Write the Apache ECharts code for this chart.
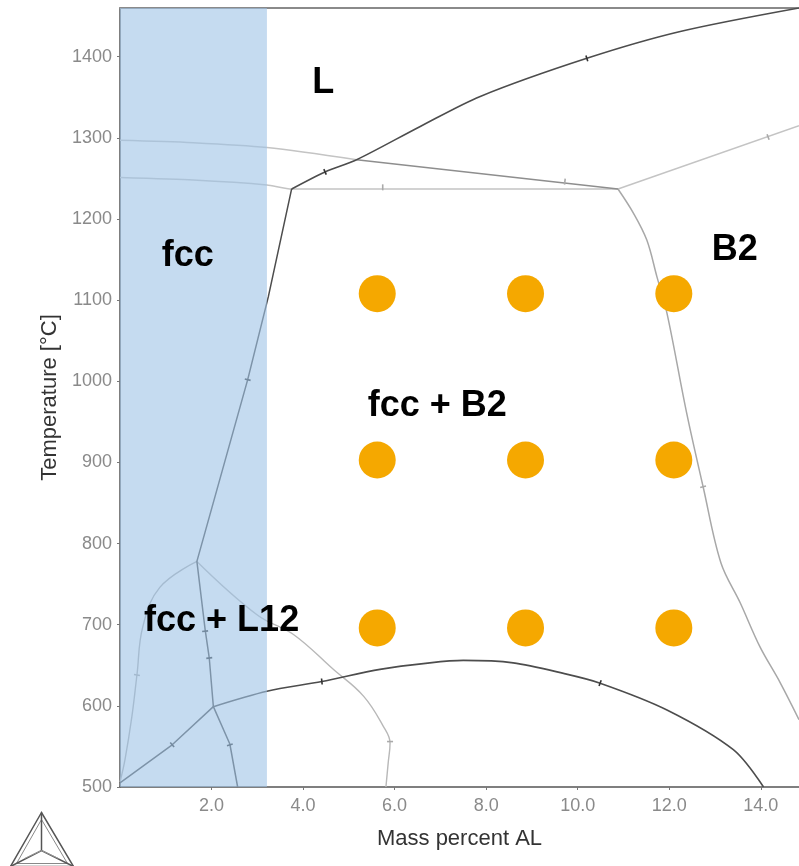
<!DOCTYPE html>
<html>
<head>
<meta charset="utf-8">
<title>Al-Ni phase diagram</title>
<script src="https://cdn.jsdelivr.net/npm/echarts@6/dist/echarts.min.js"></script>
<style>
  html, body { margin: 0; padding: 0; background: #fff; }
  #chart { width: 799px; height: 866px; }
</style>
</head>
<body>
<div id="chart"></div>
<script>
// Axis ranges (mass percent Al, temperature in °C)
const xRange = [0, 14.835];
const tRange = [500, 1460];

// Phase boundaries: [mass % Al, T °C]
const liquidus = [[3.75, 1237], [4.48, 1258], [5.17, 1273], [6.56, 1314], [7.87, 1351], [10.20, 1398], [12.24, 1431], [14.835, 1460]];
const fccSolvus = [[3.75, 1237], [3.24, 1104], [2.79, 1002], [1.68, 778], [1.86, 694], [1.95, 659], [2.04, 599], [2.40, 553], [2.57, 500]];
const lowerLeft = [[0.0, 505], [1.14, 552], [2.04, 599]];
const dome = [[2.04, 599], [3.21, 618], [4.41, 630], [5.68, 645], [6.77, 653], [7.50, 656], [8.59, 653], [9.69, 640], [10.49, 628], [11.95, 595], [13.40, 546], [14.06, 500]];
const threePhase = [[5.17, 1273], [10.88, 1237]];
const upperLight = [[0.0, 1297], [1.6, 1294], [3.21, 1288], [5.17, 1273]];
const lowerLight = [[0.0, 1251], [1.6, 1248], [3.21, 1242], [3.75, 1237], [10.88, 1237]];
const b2Liquidus = [[10.88, 1237], [14.835, 1315]];
const b2Boundary = [[10.88, 1237], [11.22, 1207], [11.51, 1174], [11.73, 1129], [11.95, 1084], [12.38, 961], [12.74, 870], [13.13, 776], [13.55, 727], [13.98, 673], [14.42, 629], [14.835, 583]];
const l12Left = [[1.68, 778], [0.87, 746], [0.50, 698], [0.37, 638], [0.26, 587], [0.11, 534], [0.0, 506]];
const l12Right = [[1.68, 778], [3.00, 712], [3.79, 688], [4.66, 645], [5.32, 612], [5.75, 575], [5.90, 554], [5.86, 530], [5.81, 500]];

// Small step marks along the curves: [x, T, angle of the curve in degrees]
const darkMarks = [[4.48, 1258, 24], [10.20, 1398, 18], [2.79, 1002, 76], [1.14, 552, 40], [1.86, 692, -83], [1.95, 659, -83], [2.40, 552, -73], [4.41, 630, 6], [10.49, 628, -21]];
const lightMarks = [[5.74, 1239, 0], [9.72, 1246, -6], [14.16, 1301, 20], [12.74, 870, -76], [5.90, 556, 90], [0.37, 638, 80]];

// Sample temperatures and compositions
const sampleAl = [5.62, 8.86, 12.10];
const sampleT = [1108, 903, 696];

// fcc single-phase band, mass % Al
const fccBand = [0, 3.21];

// Region labels: [text, x, T]
const regionNames = ['L', 'fcc', 'B2', 'fcc + B2', 'fcc + L12'];
const regionAt = [[4.44, 1368], [1.48, 1154], [13.43, 1162], [6.93, 969], [2.22, 704]];

const xTickInterval = 2;
const tTickInterval = 100;

const chart = echarts.init(document.getElementById('chart'));

const FONT = 'Liberation Sans, Arial, Helvetica, sans-serif';
const DARK = '#4d4d4d';
const MID = '#8e8e8e';
const LIGHT = '#c4c4c4';

function curve(data, color, width, smooth) {
  return {
    type: 'line', data: data, showSymbol: false, smooth: smooth, z: 2,
    lineStyle: { color: color, width: width }, silent: true, animation: false
  };
}

function marks(list, color) {
  return {
    type: 'scatter', z: 2, silent: true, animation: false,
    data: list.map(m => ({ value: [m[0], m[1]], symbolRotate: m[2] })),
    symbol: 'rect', symbolSize: [1.6, 6],
    itemStyle: { color: color, opacity: 1 }
  };
}

const samples = [];
sampleT.forEach(t => sampleAl.forEach(a => samples.push([a, t])));

const option = {
  backgroundColor: '#ffffff',
  animation: false,
  grid: { left: 120, top: 8, right: 0, bottom: 79 },
  xAxis: [{
    type: 'value', min: xRange[0], max: xRange[1], interval: xTickInterval,
    name: 'Mass percent AL', nameLocation: 'middle', nameGap: 41,
    nameTextStyle: { fontFamily: FONT, fontSize: 22, color: '#333' },
    axisLine: { lineStyle: { color: '#555', width: 1.5 } },
    axisTick: { show: true, length: 3, lineStyle: { color: '#777' } },
    axisLabel: {
      fontFamily: FONT, fontSize: 18, color: '#8a8a8a', margin: 10,
      showMinLabel: false, showMaxLabel: false,
      formatter: v => (v === 0 ? '' : v.toFixed(1))
    },
    splitLine: { show: false }
  }, {
    type: 'value', position: 'top', min: xRange[0], max: xRange[1],
    axisLine: { show: true, onZero: false, lineStyle: { color: '#8a8a8a', width: 2 } },
    axisTick: { show: false }, axisLabel: { show: false }, splitLine: { show: false }
  }],
  yAxis: {
    type: 'value', min: tRange[0], max: tRange[1], interval: tTickInterval,
    name: 'Temperature [°C]', nameLocation: 'middle', nameGap: 49,
    nameTextStyle: { fontFamily: FONT, fontSize: 22, color: '#333' },
    axisLine: { show: true, lineStyle: { color: '#555', width: 1.5 } },
    axisTick: { show: true, length: 3, lineStyle: { color: '#777' } },
    axisLabel: {
      fontFamily: FONT, fontSize: 18, color: '#8a8a8a', margin: 8, showMaxLabel: false,
      formatter: v => String(v)
    },
    splitLine: { show: false }
  },
  series: [
    curve(upperLight, LIGHT, 1.5, 0.3),
    curve(lowerLight, LIGHT, 1.5, 0.2),
    curve(b2Liquidus, LIGHT, 1.5, false),
    curve(b2Boundary, '#a8a8a8', 1.5, 0.35),
    curve(l12Left, '#b0b0b0', 1.4, 0.4),
    curve(l12Right, '#b8b8b8', 1.4, 0.4),
    curve(threePhase, MID, 1.5, false),
    curve(liquidus, DARK, 1.6, 0.3),
    curve(fccSolvus, DARK, 1.5, false),
    curve(lowerLeft, DARK, 1.5, false),
    curve(dome, DARK, 1.6, 0.3),
    marks(darkMarks, '#333'),
    marks(lightMarks, '#aaa'),
    {
      // fcc single-phase region, tinted over the curves
      type: 'custom', z: 5, silent: true, animation: false,
      data: [[fccBand[0], fccBand[1]]],
      renderItem: function (params, api) {
        const p0 = api.coord([api.value(0), tRange[1]]);
        const p1 = api.coord([api.value(1), tRange[0]]);
        return {
          type: 'rect',
          shape: { x: p0[0], y: p0[1], width: p1[0] - p0[0], height: p1[1] - p0[1] },
          style: { fill: 'rgba(158,195,230,0.6)' }
        };
      }
    },
    {
      type: 'scatter', z: 6, silent: true, animation: false,
      data: samples, symbol: 'circle', symbolSize: 37,
      itemStyle: { color: '#F5A800', opacity: 1 }
    },
    {
      type: 'scatter', z: 7, silent: true, animation: false,
      data: regionNames.map((n, i) => ({ name: n, value: regionAt[i] })),
      symbolSize: 0,
      itemStyle: { opacity: 1 },
      label: {
        show: true, position: 'inside', formatter: p => p.name,
        fontFamily: FONT, fontWeight: 'bold', fontSize: 36, color: '#000', opacity: 1
      }
    }
  ],
  graphic: [{
    type: 'group', left: 8, top: 810, silent: true,
    children: [
      { type: 'polygon', shape: { points: [[33, 2], [2, 56], [65, 56]] }, style: { fill: 'none', stroke: '#555', lineWidth: 1.5 } },
      { type: 'polygon', shape: { points: [[33, 9], [8, 53], [59, 53]] }, style: { fill: 'none', stroke: '#888', lineWidth: 1 } },
      { type: 'polyline', shape: { points: [[33, 2], [33, 40]] }, style: { stroke: '#555', lineWidth: 1.5 } },
      { type: 'polyline', shape: { points: [[2, 56], [33, 40], [65, 56]] }, style: { fill: 'none', stroke: '#555', lineWidth: 1.5 } },
      { type: 'polyline', shape: { points: [[16, 48], [33, 40], [50, 48]] }, style: { fill: 'none', stroke: '#999', lineWidth: 1 } }
    ]
  }]
};

chart.setOption(option);
</script>
</body>
</html>
